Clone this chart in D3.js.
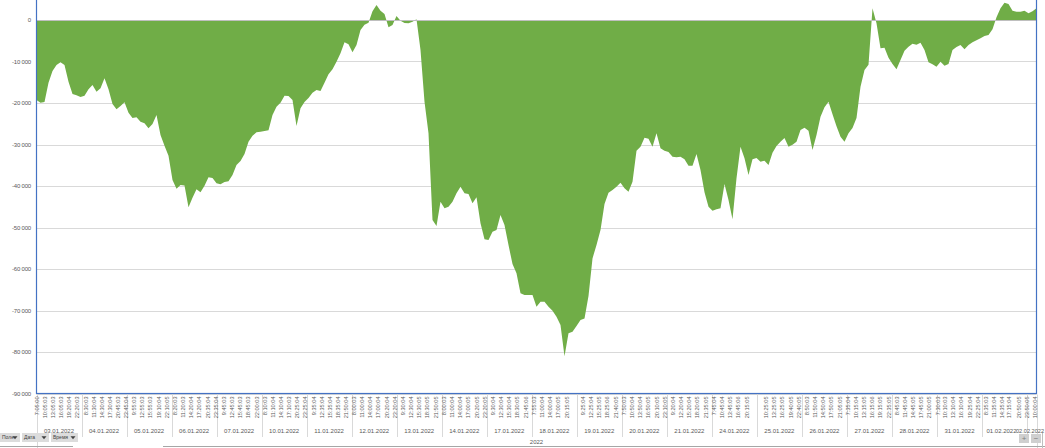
<!DOCTYPE html>
<html>
<head>
<meta charset="utf-8">
<script src="https://cdn.jsdelivr.net/npm/d3@7"></script>
<style>
  html, body { margin: 0; padding: 0; background: #fff; overflow: hidden; }
  svg { display: block; font-family: "Liberation Sans", Arial, sans-serif; }
</style>
</head>
<body>
<div id="chart"></div>
<script>

// trading days (second level of the category axis)
var days = ["03.01.2022","04.01.2022","05.01.2022","06.01.2022","07.01.2022","10.01.2022",
    "11.01.2022","12.01.2022","13.01.2022","14.01.2022","17.01.2022","18.01.2022","19.01.2022",
    "20.01.2022","21.01.2022","24.01.2022","25.01.2022","26.01.2022","27.01.2022","28.01.2022",
    "31.01.2022","01.02.2022","02.02.2022"];

// time labels shown under each day (first level)
var timeTicks = [
    ["7:05:00","10:05:03","13:05:03","16:05:03","19:20:04","22:20:03"],
    ["8:30:03","11:30:04","14:30:04","17:30:04","20:45:03","23:45:04"],
    ["9:55:03","12:55:03","15:55:03","19:10:04","22:10:05"],
    ["8:20:03","11:20:03","14:20:04","17:20:04","20:35:04","23:35:04"],
    ["9:45:03","12:45:03","15:45:03","18:45:03","22:00:03"],
    ["8:10:03","11:10:04","14:10:04","17:10:03","20:25:04","23:25:04"],
    ["9:35:04","12:35:04","15:35:04","18:35:04","21:50:04"],
    ["8:00:03","11:00:04","14:00:04","17:00:04","20:20:04","23:20:04"],
    ["9:30:04","12:30:04","15:30:05","18:30:05","21:50:05"],
    ["8:00:03","11:00:04","14:00:04","17:00:05","20:20:05","23:20:05"],
    ["9:30:04","12:30:04","15:30:04","18:30:05","21:45:06"],
    ["7:55:03","11:00:04","14:00:04","17:00:05","20:15:05"],
    ["9:25:04","12:25:04","15:25:05","18:25:06","21:40:05"],
    ["7:50:03","10:50:04","13:50:04","16:50:05","20:10:05","23:10:05"],
    ["9:20:04","12:20:04","15:20:04","18:20:05","21:35:05"],
    ["7:45:04","10:45:04","13:45:05","16:45:06","20:15:05"],
    ["10:25:05","13:25:05","16:25:05","19:40:05","22:40:05"],
    ["8:50:03","11:50:04","14:50:04","17:50:05","21:05:05"],
    ["7:35:04","10:15:04","13:15:05","16:15:06","19:15:05","22:35:05"],
    ["8:45:03","11:45:04","14:45:05","17:45:05","21:00:05"],
    ["7:30:03","10:10:03","13:10:04","16:10:04","19:25:04","22:25:04"],
    ["8:35:03","11:35:04","14:35:04","17:15:04","20:50:05","23:50:05"],
    ["10:00:04"]
];

var yTicks = [0, -10000, -20000, -30000, -40000, -50000, -60000, -70000, -80000, -90000];

// cumulative result at even steps through the period
var pnl = [
    -19300, -19920, -19760, -15100, -12290, -10850, -10200, -10850, -14860, -17830,
    -18150, -18560, -18230, -16710, -15670, -17270, -16470, -14060, -16710, -20240,
    -21530, -20730, -19840, -22330, -23620, -23460, -24500, -24900, -26110, -25060,
    -22900, -27720, -30290, -32700, -38560, -40650, -39770, -39850, -45150, -42820,
    -40810, -41530, -39920, -37920, -38080, -39360, -39600, -39040, -38880, -37360,
    -34940,
    -33980, -32290, -29320, -27870, -27070, -26910, -26750, -26590, -22900, -20890,
    -19920, -18230, -18320, -19280, -25550, -21290, -19760, -18800, -17510, -16870,
    -17110, -15100, -13090, -11890, -10040, -8030, -5380, -5860, -7790, -6030,
    -2410, -1120, -640, 2090, 3620, 2250, 1450, -1770, -1210, 960,
    -160, -720, -800, -400, 160, -7230, -19680, -27310, -48200, -49650,
    -43780, -45390, -44990, -43780, -41770, -40170, -41770, -41930, -44180, -42740,
    -49000, -52860, -53020, -51010, -50610, -46990, -49400, -54220, -58800, -61050,
    -65870, -66270, -66270, -66270, -69080, -67880, -67880, -69080, -70050, -71490,
    -73500, -81000, -75510, -75110, -73740, -72300, -71900, -66510, -57440, -54220,
    -50610, -44340, -41610, -40970, -40170, -39200,
    -40570, -41370, -38960, -31490, -30530, -28360, -28600, -30530, -27310, -30930,
    -31490, -31810, -32940, -33100, -32940, -33580, -35100, -35100, -32290, -36150,
    -41530, -44990, -45950, -45630, -45390, -39520, -43380, -48000, -38160, -30530,
    -33340, -37350, -33580, -33260, -34140, -33900, -34940, -31970, -30370, -29320,
    -28440, -30530, -30040, -29320, -26510, -25950, -26670, -31330, -27710, -23300,
    -21050, -19680,
    -22730, -25630, -28120, -29320, -27310, -26030, -23620, -16070, -12050, -10760,
    2810, -800, -6830, -6670, -9080, -10600, -11890, -9640, -7390, -6430,
    -5700, -5940, -5460, -7230, -10200, -10680, -11250, -10040, -11010, -10600,
    -7230, -6510, -6020, -7070, -6020, -5380, -4900, -4420, -3860, -3610,
    -2250, 640, 2810, 4180, 3860, 2250, 2010, 2010, 2250, 1610,
    2090, 2810
];

var fieldButtons = ["Поле", "Дата", "Время"];
var axisTitle = "2022";

// session 7:00 - 23:50, x runs on "session hours"
var SESSION_START = 7;
var DAY_LEN = 23 + 50 / 60 - SESSION_START;
var LAST_DAY_LEN = 3.55;

var W = 1045, H = 448;
var plot = {left: 36.5, right: 1036.5, top: -21.5, bottom: 393.5};

var svg = d3.select("#chart").append("svg")
    .attr("width", W)
    .attr("height", H);

var totalHours = (days.length - 1) * DAY_LEN + LAST_DAY_LEN;

var x = d3.scaleLinear()
    .domain([0, totalHours])
    .range([plot.left, plot.right]);

var y = d3.scaleLinear()
    .domain([-90000, 10000])
    .range([plot.bottom, plot.top]);

var fmt = d3.formatLocale({decimal: ",", thousands: "\u00a0", grouping: [3], currency: ["", ""], minus: "-"}).format(",d");

var hourOf = function(i) { return i * totalHours / (pnl.length - 1); };

function parseTime(s) {
    var p = s.split(":").map(Number);
    return p[0] + p[1] / 60 + p[2] / 3600;
}

// gridlines
svg.append("g").selectAll("line")
    .data(yTicks)
    .enter().append("line")
    .attr("x1", plot.left).attr("x2", plot.right)
    .attr("y1", function(d) { return Math.round(y(d)) + 0.5; })
    .attr("y2", function(d) { return Math.round(y(d)) + 0.5; })
    .attr("stroke", "#d9d9d9")
    .attr("stroke-width", 1);

// the area
var area = d3.area()
    .x(function(d, i) { return x(hourOf(i)); })
    .y0(y(0))
    .y1(function(d) { return y(d); });

svg.append("path")
    .datum(pnl)
    .attr("d", area)
    .attr("fill", "#70ad47");

// zero line (category axis)
svg.append("line")
    .attr("x1", plot.left).attr("x2", plot.right)
    .attr("y1", Math.round(y(0)) + 0.5).attr("y2", Math.round(y(0)) + 0.5)
    .attr("stroke", "#bfbfbf")
    .attr("stroke-width", 1);

// y labels
svg.append("g").selectAll("text")
    .data(yTicks)
    .enter().append("text")
    .attr("x", 31)
    .attr("y", function(d) { return y(d); })
    .attr("dy", "0.35em")
    .attr("text-anchor", "end")
    .attr("font-size", "6px")
    .attr("letter-spacing", "-0.2px")
    .attr("fill", "#595959")
    .text(function(d) { return fmt(d); });

// plot area border (selected, blue)
svg.append("rect")
    .attr("x", plot.left).attr("y", plot.top)
    .attr("width", plot.right - plot.left)
    .attr("height", plot.bottom - plot.top)
    .attr("fill", "none")
    .attr("stroke", "#4472c4")
    .attr("stroke-width", 1.2);

// day separators
var bounds = d3.range(days.length).map(function(i) { return i * DAY_LEN; });
bounds.push(totalHours);

svg.append("g").selectAll("line")
    .data(bounds)
    .enter().append("line")
    .attr("x1", function(d) { return Math.round(x(d)) + 0.5; })
    .attr("x2", function(d) { return Math.round(x(d)) + 0.5; })
    .attr("y1", plot.bottom + 1)
    .attr("y2", function(d, i) { return (i === 0 || i === bounds.length - 1) ? 448 : 437; })
    .attr("stroke", "#d9d9d9")
    .attr("stroke-width", 1);

// time labels
var timeData = [];
timeTicks.forEach(function(list, di) {
    list.forEach(function(t) {
        timeData.push({label: t, h: di * DAY_LEN + parseTime(t) - SESSION_START});
    });
});

svg.append("g").selectAll("text")
    .data(timeData)
    .enter().append("text")
    .attr("transform", function(d) { return "translate(" + x(d.h) + "," + (plot.bottom + 3) + ") rotate(-90)"; })
    .attr("dy", "0.35em")
    .attr("text-anchor", "end")
    .attr("font-size", "5.6px")
    .attr("fill", "#595959")
    .text(function(d) { return d.label; });

// day labels (the short last day is pushed to the right edge)
var last = days.length - 1;
svg.append("g").selectAll("text")
    .data(days)
    .enter().append("text")
    .attr("x", function(d, i) {
        if (i === last) return W - 1;
        var c = (x(bounds[i]) + x(bounds[i + 1])) / 2;
        return i === last - 1 ? c - 3 : c;
    })
    .attr("y", 433)
    .attr("text-anchor", function(d, i) { return i === last ? "end" : "middle"; })
    .attr("font-size", function(d, i) { return i === last ? "5.6px" : "6px"; })
    .attr("fill", "#595959")
    .text(function(d) { return d; });

// year
svg.append("text")
    .attr("x", (plot.left + plot.right) / 2)
    .attr("y", 444)
    .attr("text-anchor", "middle")
    .attr("font-size", "6px")
    .attr("fill", "#595959")
    .text(axisTitle);

// chart border at the bottom
svg.append("line").attr("x1", 0).attr("x2", 73).attr("y1", 446.5).attr("y2", 446.5)
    .attr("stroke", "#a6a6a6");
svg.append("line").attr("x1", 163).attr("x2", W).attr("y1", 446.5).attr("y2", 446.5)
    .attr("stroke", "#a6a6a6");
svg.append("line").attr("x1", 1042.5).attr("x2", 1042.5).attr("y1", 433).attr("y2", H)
    .attr("stroke", "#bfbfbf");

// pivot field buttons
var btns = [{x: 0, w: 20}, {x: 22, w: 27}, {x: 51, w: 27}];
var bg = svg.append("g").selectAll("g")
    .data(fieldButtons)
    .enter().append("g")
    .attr("transform", function(d, i) { return "translate(" + btns[i].x + ",433)"; });

bg.append("rect")
    .attr("width", function(d, i) { return btns[i].w; })
    .attr("height", 9)
    .attr("fill", "#dcdcdc");

bg.append("text")
    .attr("x", 2).attr("y", 6.3)
    .attr("font-size", "5px")
    .attr("fill", "#404040")
    .text(function(d) { return d; });

bg.append("path")
    .attr("d", function(d, i) {
        var cx = btns[i].w - 5;
        return "M" + (cx - 2.5) + ",3.2 L" + (cx + 2.5) + ",3.2 L" + cx + ",6.2 Z";
    })
    .attr("fill", "#404040");

// +/- buttons
var pm = svg.append("g").selectAll("g")
    .data(["+", "\u2212"])
    .enter().append("g")
    .attr("transform", function(d, i) { return "translate(" + (1019 + i * 12) + ",434)"; });

pm.append("rect").attr("width", 10).attr("height", 9).attr("fill", "#cfcfcf");
pm.append("text")
    .attr("x", 5).attr("y", 7)
    .attr("text-anchor", "middle")
    .attr("font-size", "8px")
    .attr("fill", "#7f7f7f")
    .text(function(d) { return d; });

</script>
</body>
</html>
